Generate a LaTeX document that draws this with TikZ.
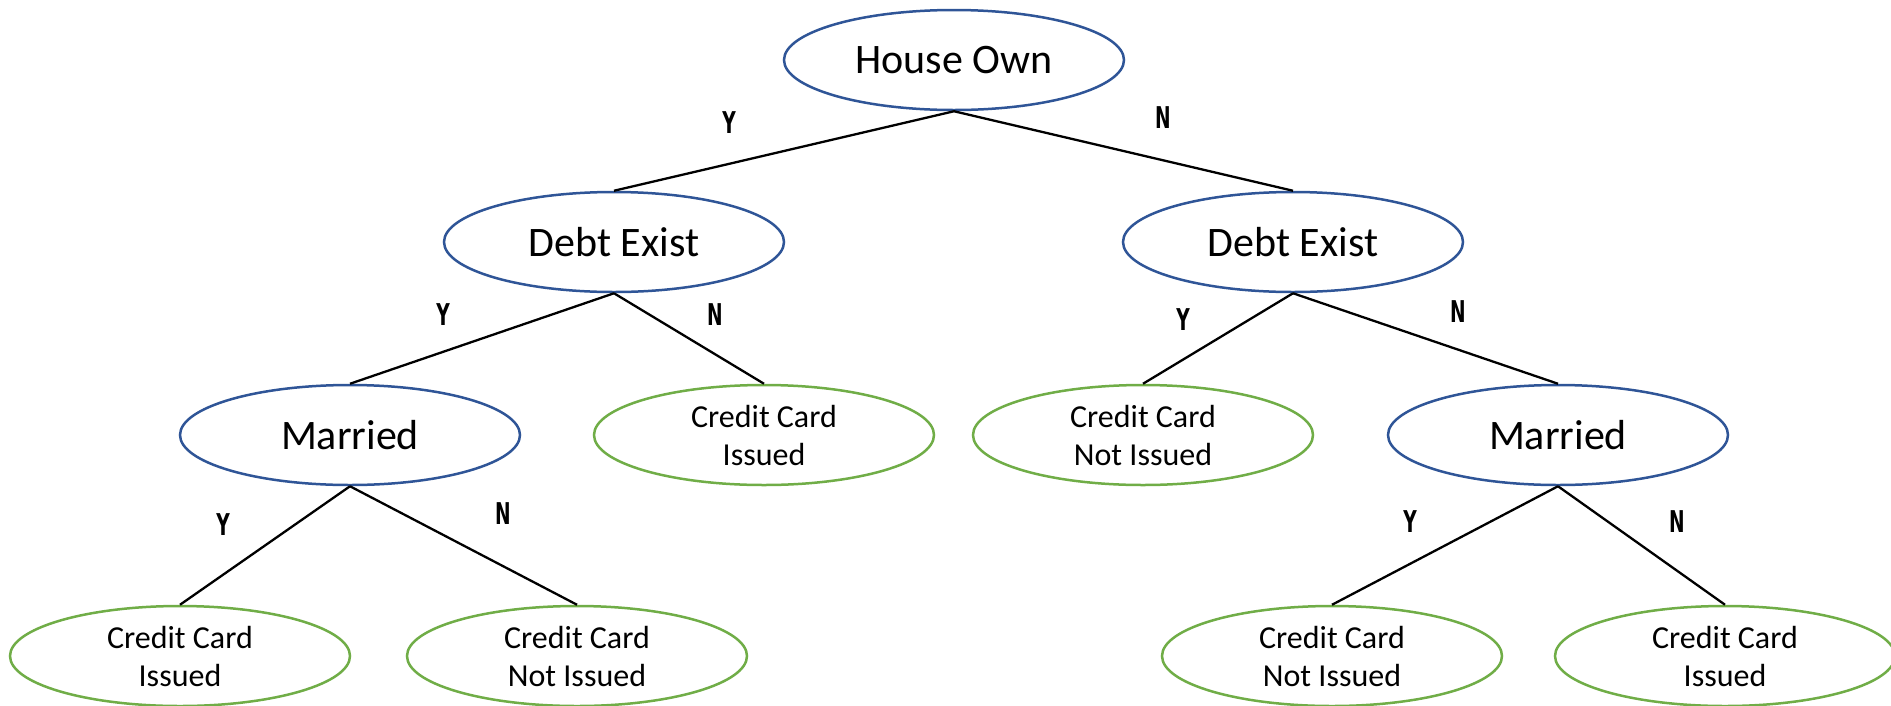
\documentclass[tikz,border=0pt]{standalone}
\usepackage{fontspec}
\setmainfont{Carlito}
\newfontfamily\yn[FakeStretch=0.62]{DejaVu Sans}
\usetikzlibrary{shapes.geometric}
\definecolor{nodeblue}{HTML}{2F5597}
\definecolor{leafgreen}{HTML}{70AD47}
\begin{document}
\begin{tikzpicture}[x=1pt,y=-1pt,
  decision/.style={ellipse, draw=nodeblue, line width=2.5pt, minimum width=340pt, minimum height=100pt, inner sep=0pt, font=\fontsize{42}{50}\selectfont},
  leaf/.style={ellipse, draw=leafgreen, line width=2.5pt, minimum width=340pt, minimum height=100pt, inner sep=0pt, align=center, font=\fontsize{32}{38}\selectfont},
  edge/.style={draw=black, line width=2.3pt},
  lab/.style={font=\yn\bfseries\fontsize{30}{34}\selectfont, inner sep=0pt}]
\useasboundingbox (0,0) rectangle (1891,705);
\node[decision] (root) at (954,60) {House Own};
\node[decision] (dl) at (614,242) {Debt Exist};
\node[decision] (dr) at (1293,242) {Debt Exist};
\node[decision] (ml) at (350,435) {Married};
\node[leaf] (l1) at (764,435) {Credit Card\\Issued};
\node[leaf] (l2) at (1143,435) {Credit Card\\Not Issued};
\node[decision] (mr) at (1558,435) {Married};
\node[leaf] (l3) at (180,656) {Credit Card\\Issued};
\node[leaf] (l4) at (577,656) {Credit Card\\Not Issued};
\node[leaf] (l5) at (1332,656) {Credit Card\\Not Issued};
\node[leaf] (l6) at (1725,656) {Credit Card\\Issued};
\draw[edge] (root.south) -- (dl.north);
\draw[edge] (root.south) -- (dr.north);
\draw[edge] (dl.south) -- (ml.north);
\draw[edge] (dl.south) -- (l1.north);
\draw[edge] (dr.south) -- (l2.north);
\draw[edge] (dr.south) -- (mr.north);
\draw[edge] (ml.south) -- (l3.north);
\draw[edge] (ml.south) -- (l4.north);
\draw[edge] (mr.south) -- (l5.north);
\draw[edge] (mr.south) -- (l6.north);
\node[lab] (y1) at (729,123) {Y};
\node[lab] (n1) at (1163,118) {N};
\node[lab] (y2) at (443,315) {Y};
\node[lab] (n2) at (715,315) {N};
\node[lab] (y3) at (1183,320) {Y};
\node[lab] (n3) at (1458,312) {N};
\node[lab] (y4) at (223,525) {Y};
\node[lab] (n4) at (503,514) {N};
\node[lab] (y5) at (1410,522) {Y};
\node[lab] (n5) at (1677,522) {N};
\end{tikzpicture}
\end{document}
